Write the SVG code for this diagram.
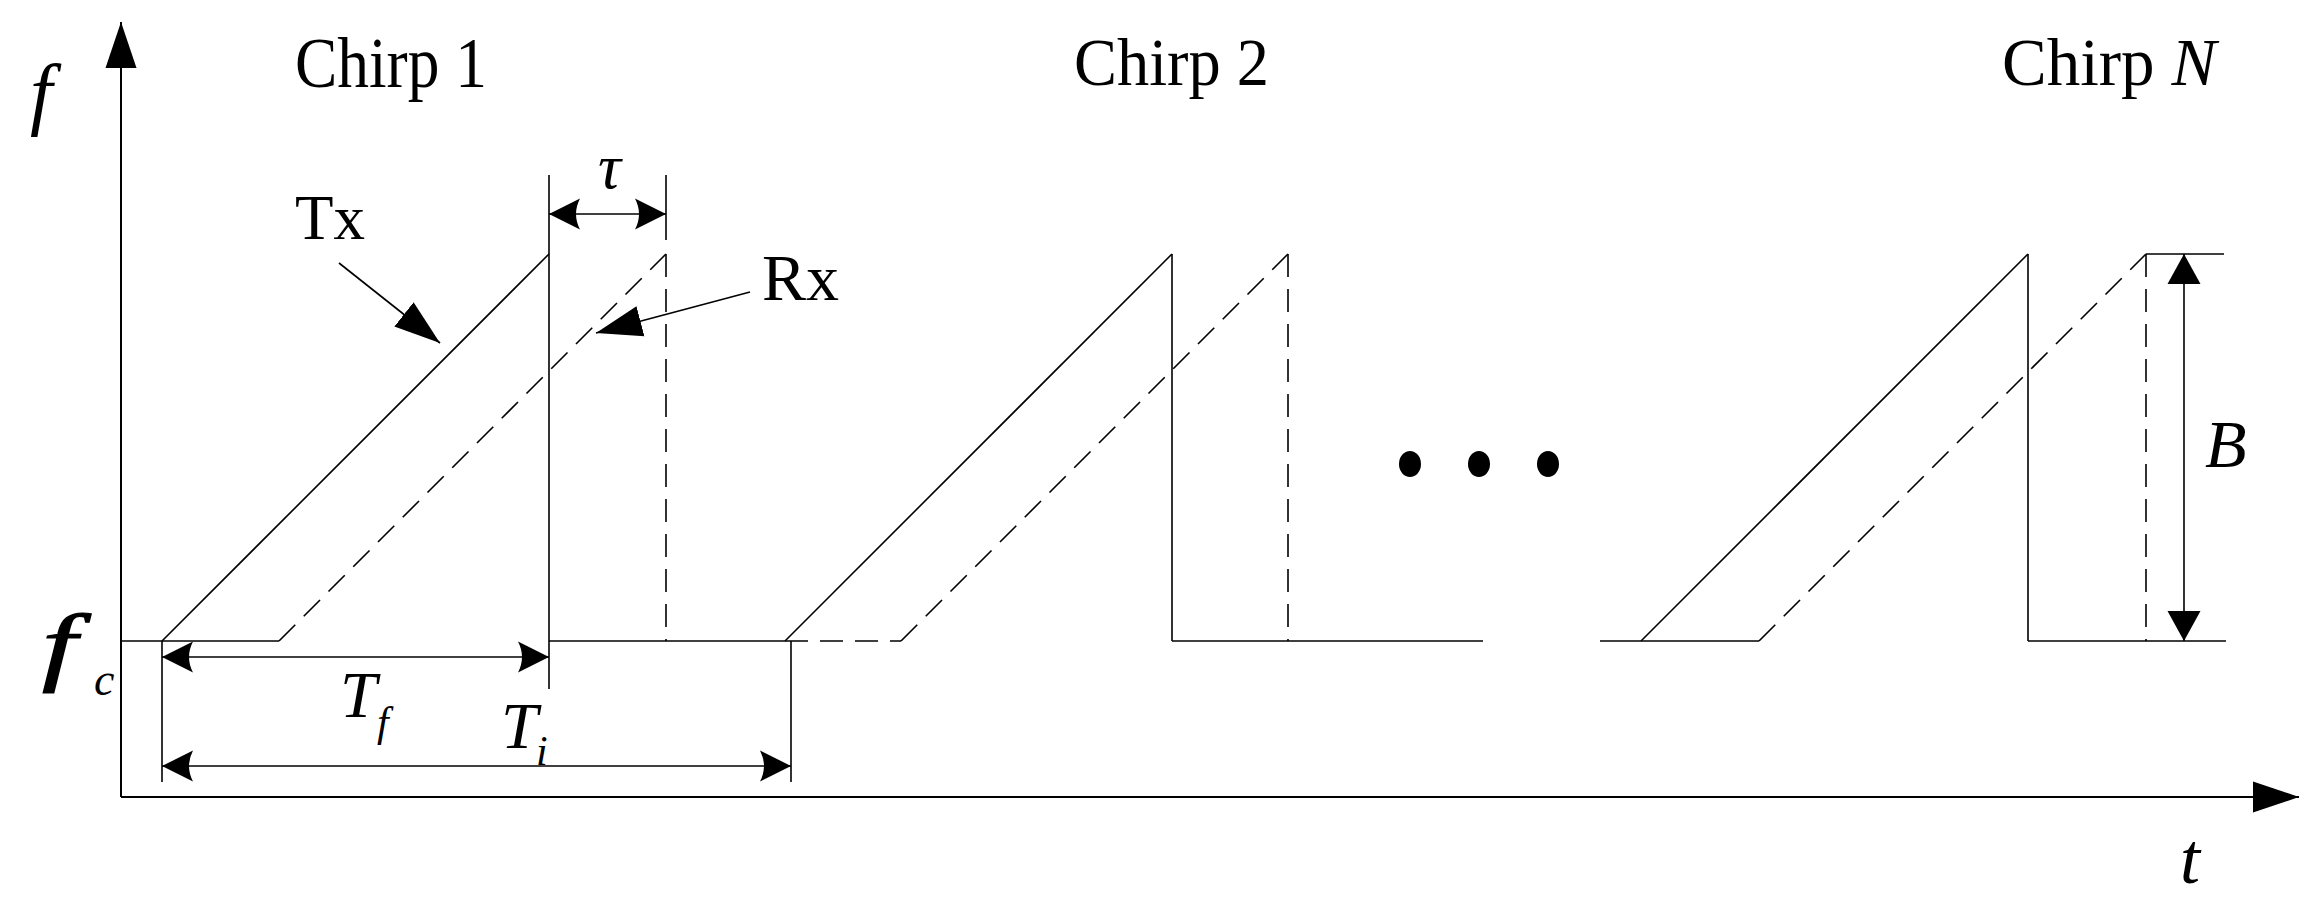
<svg xmlns="http://www.w3.org/2000/svg" width="2320" height="899" viewBox="0 0 2320 899">
<style>
.ln{stroke:#000;stroke-width:1.6;fill:none}
.ax{stroke:#000;stroke-width:2;fill:none}
.ds{stroke:#000;stroke-width:1.6;fill:none;stroke-dasharray:23 12}
.tx{font-family:"Liberation Serif","Times New Roman",serif;fill:#000}
.it{font-style:italic}
</style>
<defs>
<marker id="dim" markerUnits="userSpaceOnUse" viewBox="0 -16 32 32" refX="31" refY="0" markerWidth="32" markerHeight="32" orient="auto-start-reverse">
<path d="M31,0 L0,-15.5 Q8,0 0,15.5 Z" fill="#000"/>
</marker>
<marker id="tri" markerUnits="userSpaceOnUse" viewBox="0 -16 46 32" refX="46" refY="0" markerWidth="46" markerHeight="32" orient="auto">
<path d="M46,0 L0,-15.5 L0,15.5 Z" fill="#000"/>
</marker>
<marker id="triB" markerUnits="userSpaceOnUse" viewBox="0 -17 30 34" refX="30" refY="0" markerWidth="30" markerHeight="34" orient="auto-start-reverse">
<path d="M30,0 L0,-16.5 L0,16.5 Z" fill="#000"/>
</marker>
</defs>
<rect width="2320" height="899" fill="#fff"/>

<g id="axes">
<line class="ax" x1="121" y1="797" x2="121" y2="22" marker-end="url(#tri)"/>
<line class="ax" x1="121" y1="797" x2="2299" y2="797" marker-end="url(#tri)"/>
<text class="tx it" x="30" y="120" font-size="80">f</text>
<text class="tx it" x="2180" y="883" font-size="72">t</text>
<text class="tx it" font-size="86" transform="translate(42,674) scale(1.45,1)" stroke="#000" stroke-width="1.2">f</text>
<text class="tx it" x="94" y="695" font-size="46">c</text>
</g>

<g id="chirp1">
<polyline class="ln" points="121,641 162,641 549,254"/>
<line class="ln" x1="162" y1="641" x2="279" y2="641"/>
<line class="ln" x1="549" y1="175" x2="549" y2="689"/>
<line class="ds" x1="279" y1="641" x2="666" y2="254"/>
<line class="ds" x1="666" y1="254" x2="666" y2="641"/>
<line class="ln" x1="666" y1="175" x2="666" y2="240"/>
<line class="ln" x1="549" y1="641" x2="785" y2="641"/>
<text class="tx" x="295" y="87" font-size="72" textLength="192" lengthAdjust="spacingAndGlyphs">Chirp 1</text>
</g>

<g id="chirp2">
<line class="ln" x1="785" y1="641" x2="1172" y2="254"/>
<line class="ln" x1="1172" y1="254" x2="1172" y2="641"/>
<line class="ds" x1="785" y1="641" x2="901" y2="641"/>
<line class="ds" x1="901" y1="641" x2="1288" y2="254"/>
<line class="ds" x1="1288" y1="254" x2="1288" y2="641"/>
<line class="ln" x1="1172" y1="641" x2="1483" y2="641"/>
<text class="tx" x="1074" y="85" font-size="67" textLength="195" lengthAdjust="spacingAndGlyphs">Chirp 2</text>
</g>

<g id="ellipsis">
<ellipse cx="1410" cy="464" rx="11" ry="13" fill="#000"/>
<ellipse cx="1479" cy="464" rx="11" ry="13" fill="#000"/>
<ellipse cx="1548" cy="464" rx="11" ry="13" fill="#000"/>
</g>

<g id="chirpN">
<polyline class="ln" points="1600,641 1759,641"/>
<line class="ln" x1="1641" y1="641" x2="2028" y2="254"/>
<line class="ln" x1="2028" y1="254" x2="2028" y2="641"/>
<line class="ds" x1="1759" y1="641" x2="2146" y2="254"/>
<line class="ds" x1="2146" y1="254" x2="2146" y2="641"/>
<line class="ln" x1="2028" y1="641" x2="2226" y2="641"/>
<line class="ln" x1="2146" y1="254" x2="2224" y2="254"/>
<text class="tx" x="2002" y="85" font-size="67">Chirp <tspan class="it">N</tspan></text>
</g>

<g id="connectors">
<line class="ln" x1="549" y1="214" x2="666" y2="214" marker-start="url(#dim)" marker-end="url(#dim)"/>
<line class="ln" x1="162" y1="657" x2="549" y2="657" marker-start="url(#dim)" marker-end="url(#dim)"/>
<line class="ln" x1="162" y1="641" x2="162" y2="782"/>
<line class="ln" x1="791" y1="641" x2="791" y2="782"/>
<line class="ln" x1="162" y1="766" x2="791" y2="766" marker-start="url(#dim)" marker-end="url(#dim)"/>
<line class="ln" x1="339" y1="263" x2="440" y2="343" marker-end="url(#tri)"/>
<line class="ln" x1="750" y1="292" x2="596" y2="333" marker-end="url(#tri)"/>
<line class="ln" x1="2184" y1="254" x2="2184" y2="641" marker-start="url(#triB)" marker-end="url(#triB)"/>
</g>

<g id="labels">
<text class="tx it" x="598" y="188" font-size="64">τ</text>
<text class="tx" x="295" y="239" font-size="63">Tx</text>
<text class="tx" x="762" y="300" font-size="66">Rx</text>
<text class="tx it" x="340" y="717" font-size="66">T</text>
<text class="tx it" x="377" y="736" font-size="42">f</text>
<text class="tx it" x="501" y="748" font-size="66">T</text>
<text class="tx it" x="536" y="765" font-size="42">i</text>
<text class="tx it" x="2205" y="467" font-size="68">B</text>
</g>
</svg>
